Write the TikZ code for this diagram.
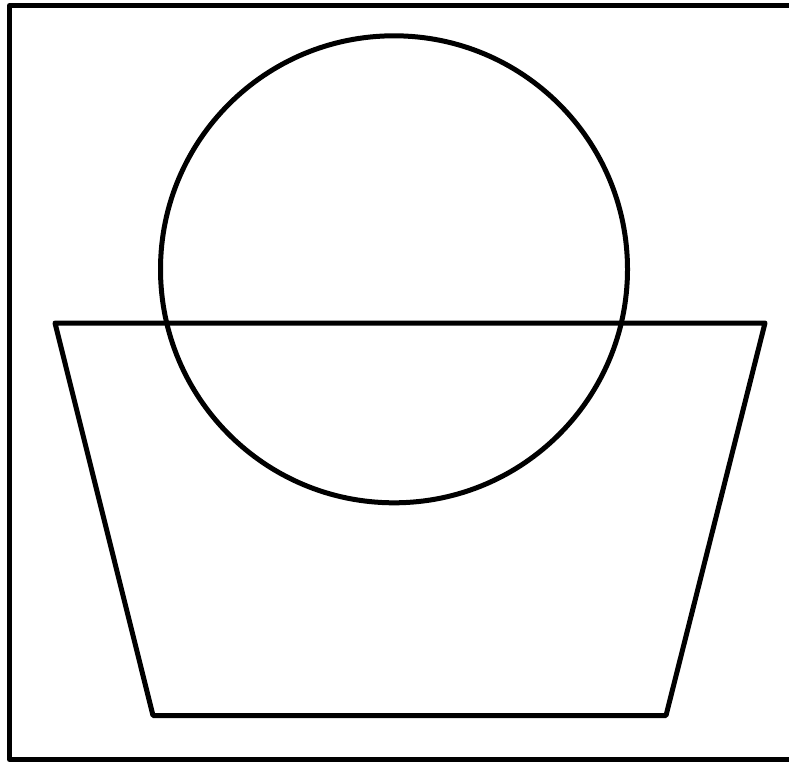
\documentclass[tikz,border=0pt]{standalone}
\begin{document}
\begin{tikzpicture}[x=1pt,y=-1pt,
  shapeline/.style={draw=black,line width=5pt,line join=round}]
\useasboundingbox (0,0) rectangle (789,761);
\begin{scope}
\clip (0,0) rectangle (789,761);
\draw[shapeline] (9.5,5.5) rectangle (795,759.5);
\end{scope}
\coordinate (tl) at (55,323);
\coordinate (tr) at (765,323);
\coordinate (br) at (666,715.5);
\coordinate (bl) at (153,715.5);
\draw[shapeline] (tl) -- (tr) -- (br) -- (bl) -- cycle;
\node[circle,shapeline,minimum size=467pt,inner sep=0pt] (c) at (394,269.3) {};
\end{tikzpicture}
\end{document}
